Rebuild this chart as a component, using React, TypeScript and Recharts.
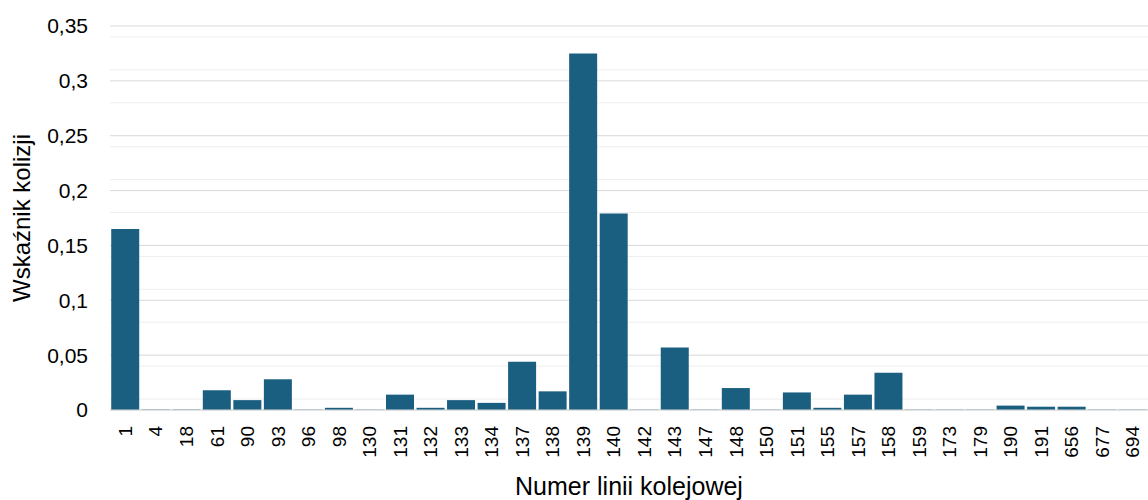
import { Bar, BarChart, CartesianGrid, XAxis, YAxis } from "recharts";

// Wskaźnik kolizji dla poszczególnych linii kolejowych
const lines = [
  "1", "4", "18", "61", "90", "93", "96", "98", "130", "131", "132", "133", "134", "137", "138", "139", "140",
  "142", "143", "147", "148", "150", "151", "155", "157", "158", "159", "173", "179", "190", "191", "656", "677", "694",
];
const collisionRate = [
  0.165, 0.0004, 0.0004, 0.018, 0.009, 0.028, 0.0003, 0.002, 0.0003, 0.014, 0.002, 0.009, 0.0065, 0.044, 0.017,
  0.325, 0.179, 0.0003, 0.057, 0.0003, 0.02, 0.0003, 0.016, 0.002, 0.014, 0.034, 0.0003, 0.0003, 0.0003, 0.004,
  0.003, 0.003, 0.0003, 0.0003,
];
const yTicks = [0, 0.05, 0.1, 0.15, 0.2, 0.25, 0.3, 0.35];
const minorTicks = [
  0.01, 0.02, 0.03, 0.04, 0.06, 0.07, 0.08, 0.09, 0.11, 0.12, 0.13, 0.14, 0.16, 0.17, 0.18, 0.19,
  0.21, 0.22, 0.23, 0.24, 0.26, 0.27, 0.28, 0.29, 0.31, 0.32, 0.33, 0.34,
];

const data = lines.map((line, i) => ({ line, value: collisionRate[i] }));

const FONT = "'Liberation Sans', Arial, sans-serif";
const BAR = "#1a5e80";

const formatTick = (v: number) => String(v).replace(".", ",");

function XTick({ x, y, payload }: any) {
  return (
    <text
      x={0}
      y={0}
      transform={`translate(${x},${y + 8}) rotate(-90)`}
      textAnchor="end"
      dy="0.35em"
      fontSize={19}
      fontFamily={FONT}
      fill="#000"
    >
      {payload.value}
    </text>
  );
}

export default function App() {
  return (
    <div style={{ position: "absolute", left: 0, top: 0, background: "#fff" }}>
      <BarChart
        width={1148}
        height={500}
        data={data}
        margin={{ top: 26, right: 0, left: 0, bottom: 0 }}
        barCategoryGap="4%"
      >
        {/* drobna siatka co 0,01 pod główną co 0,05 */}
        <CartesianGrid vertical={false} stroke="#eeeeee" horizontalValues={minorTicks} />
        <CartesianGrid vertical={false} stroke="#d9d9d9" />
        <XAxis
          dataKey="line"
          interval={0}
          height={90}
          tickLine={false}
          axisLine={{ stroke: "#d9d9d9" }}
          tick={<XTick />}
          label={{
            content: ({ viewBox }: any) => (
              <text
                x={viewBox.x + viewBox.width / 2}
                y={viewBox.y + 85}
                textAnchor="middle"
                fontSize={25}
                fontFamily={FONT}
                fill="#000"
              >
                Numer linii kolejowej
              </text>
            ),
          }}
        />
        <YAxis
          width={110}
          domain={[0, 0.35]}
          ticks={yTicks}
          tickFormatter={formatTick}
          axisLine={false}
          tickLine={false}
          tickMargin={16}
          tick={{ fontSize: 21, fontFamily: FONT, fill: "#000" }}
          label={{
            content: ({ viewBox }: any) => {
              const cx = viewBox.x + 22;
              const cy = viewBox.y + viewBox.height / 2;
              return (
                <text
                  x={cx}
                  y={cy}
                  transform={`rotate(-90, ${cx}, ${cy})`}
                  textAnchor="middle"
                  dy="0.35em"
                  fontSize={24}
                  fontFamily={FONT}
                  fill="#000"
                >
                  Wskaźnik kolizji
                </text>
              );
            },
          }}
        />
        <Bar dataKey="value" fill={BAR} isAnimationActive={false} />
      </BarChart>
    </div>
  );
}
